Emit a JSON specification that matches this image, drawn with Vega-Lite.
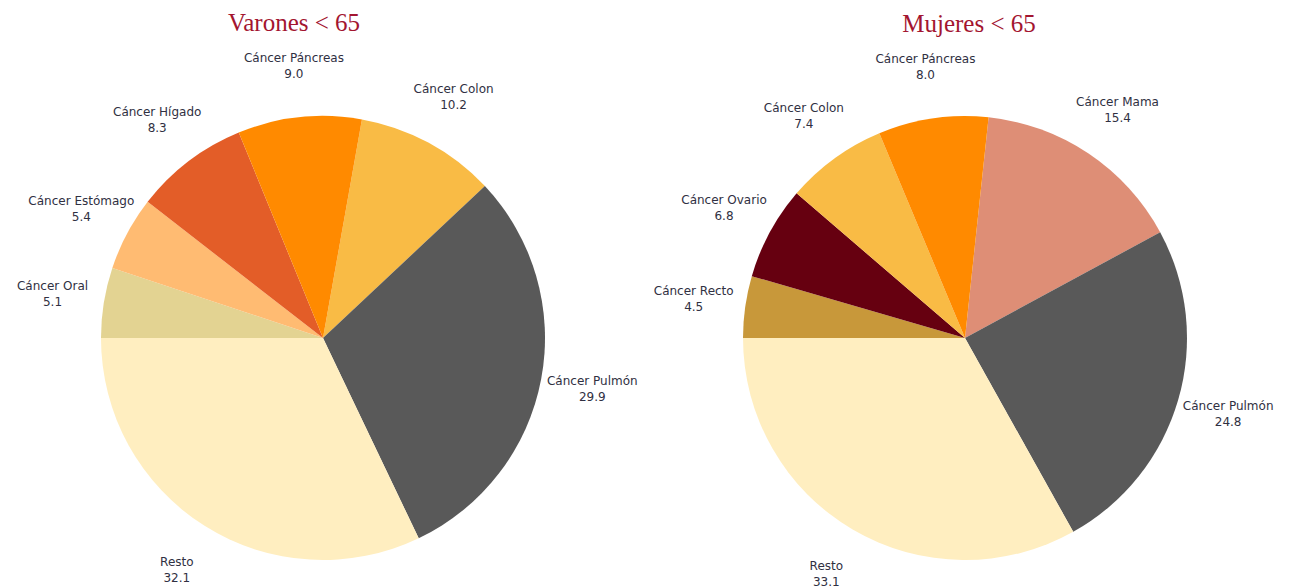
{
  "$schema": "https://vega.github.io/schema/vega-lite/v6.json",
  "padding": {"left": 16, "top": 10, "right": 0, "bottom": 0},
  "spacing": 42,
  "bounds": "flush",
  "background": "white",
  "resolve": {"scale": {"color": "independent", "theta": "independent"}},
  "config": {"view": {"stroke": null}},
  "datasets": {
    "varones": [
      {"orden": 1, "causa": "Cáncer Colon", "valor": 10.2},
      {"orden": 2, "causa": "Cáncer Pulmón", "valor": 29.9},
      {"orden": 3, "causa": "Resto", "valor": 32.1},
      {"orden": 4, "causa": "Cáncer Oral", "valor": 5.1},
      {"orden": 5, "causa": "Cáncer Estómago", "valor": 5.4},
      {"orden": 6, "causa": "Cáncer Hígado", "valor": 8.3},
      {"orden": 7, "causa": "Cáncer Páncreas", "valor": 9.0}
    ],
    "mujeres": [
      {"orden": 1, "causa": "Cáncer Mama", "valor": 15.4},
      {"orden": 2, "causa": "Cáncer Pulmón", "valor": 24.8},
      {"orden": 3, "causa": "Resto", "valor": 33.1},
      {"orden": 4, "causa": "Cáncer Recto", "valor": 4.5},
      {"orden": 5, "causa": "Cáncer Ovario", "valor": 6.8},
      {"orden": 6, "causa": "Cáncer Colon", "valor": 7.4},
      {"orden": 7, "causa": "Cáncer Páncreas", "valor": 8.0}
    ]
  },
  "hconcat": [
    {
      "title": {"text": "Varones < 65", "font": "Liberation Serif", "fontSize": 25, "fontWeight": "normal", "color": "#A31530", "offset": 16, "dx": -29},
      "width": 600,
      "height": 500,
      "data": {"name": "varones"},
      "encoding": {
        "theta": {"field": "valor", "type": "quantitative", "stack": true, "scale": {"range": [0.1763, 6.4595]}},
        "order": {"field": "orden", "type": "quantitative"},
        "color": {"field": "causa", "type": "nominal", "legend": null,
          "scale": {"domain": ["Cáncer Colon", "Cáncer Pulmón", "Resto", "Cáncer Oral", "Cáncer Estómago", "Cáncer Hígado", "Cáncer Páncreas"],
                    "range": ["#F9BB45", "#595959", "#FFEEC0", "#E3D392", "#FFBB72", "#E35D28", "#FF8A00"]}}
      },
      "layer": [
        {"mark": {"type": "arc", "outerRadius": 222}},
        {"mark": {"type": "text", "radius": 274, "dy": -8, "font": "DejaVu Sans", "fontSize": 12, "align": "center", "baseline": "middle"},
         "encoding": {"text": {"field": "causa"}, "color": {"value": "#303042"}}},
        {"mark": {"type": "text", "radius": 274, "dy": 8, "font": "DejaVu Sans", "fontSize": 12, "align": "center", "baseline": "middle"},
         "encoding": {"text": {"field": "valor", "type": "quantitative", "format": ".1f"}, "color": {"value": "#303042"}}}
      ]
    },
    {
      "title": {"text": "Mujeres < 65", "font": "Liberation Serif", "fontSize": 25, "fontWeight": "normal", "color": "#A31530", "offset": 16, "dx": 4},
      "width": 600,
      "height": 500,
      "data": {"name": "mujeres"},
      "encoding": {
        "theta": {"field": "valor", "type": "quantitative", "stack": true, "scale": {"range": [0.1065, 6.3897]}},
        "order": {"field": "orden", "type": "quantitative"},
        "color": {"field": "causa", "type": "nominal", "legend": null,
          "scale": {"domain": ["Cáncer Mama", "Cáncer Pulmón", "Resto", "Cáncer Recto", "Cáncer Ovario", "Cáncer Colon", "Cáncer Páncreas"],
                    "range": ["#DE8E76", "#595959", "#FFEEC0", "#C8983A", "#660010", "#F9BB45", "#FF8A00"]}}
      },
      "layer": [
        {"mark": {"type": "arc", "outerRadius": 222}},
        {"mark": {"type": "text", "radius": 274, "dy": -8, "font": "DejaVu Sans", "fontSize": 12, "align": "center", "baseline": "middle"},
         "encoding": {"text": {"field": "causa"}, "color": {"value": "#303042"}}},
        {"mark": {"type": "text", "radius": 274, "dy": 8, "font": "DejaVu Sans", "fontSize": 12, "align": "center", "baseline": "middle"},
         "encoding": {"text": {"field": "valor", "type": "quantitative", "format": ".1f"}, "color": {"value": "#303042"}}}
      ]
    }
  ]
}
